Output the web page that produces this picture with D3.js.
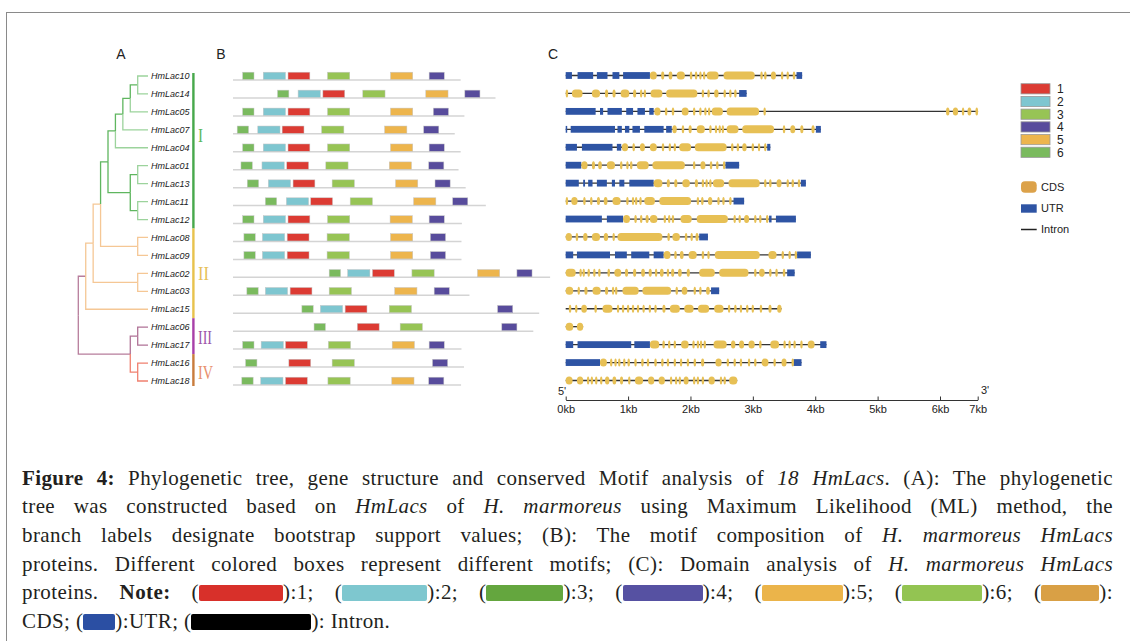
<!DOCTYPE html>
<html>
<head>
<meta charset="utf-8">
<script src="https://cdn.jsdelivr.net/npm/d3@7"></script>
<style>
body { margin: 0; background: #fff; }
#wrap { position: relative; width: 1130px; height: 641px; overflow: hidden; }
#wrap svg { position: absolute; left: 0; top: 0; }
.cap { position: absolute; left: 22px; width: 1091px; font-family: "Liberation Serif", serif; font-size: 21px; letter-spacing: 0.4px; line-height: 24px; color: #231f20; text-align: justify; text-align-last: justify; }
.cap.last { text-align-last: left; }
.sw { display: inline-block; height: 16px; vertical-align: -2px; border-radius: 2px; }
</style>
</head>
<body>
<div id="wrap"></div>
<script>
// ---- data ----
const genes = ["HmLac10","HmLac14","HmLac05","HmLac07","HmLac04","HmLac01","HmLac13","HmLac11","HmLac12",
  "HmLac08","HmLac09","HmLac02","HmLac03","HmLac15","HmLac06","HmLac17","HmLac16","HmLac18"];
const groups = ["I","I","I","I","I","I","I","I","I","II","II","II","II","II","III","III","IV","IV"];
const groupNames = ["I","II","III","IV"];

// ML tree topology (leaf order = genes)
const tree = [[[[[[[[["HmLac10","HmLac14"],"HmLac05"],"HmLac07"],"HmLac04"],
  [["HmLac01","HmLac13"],["HmLac11","HmLac12"]]],["HmLac08","HmLac09"]],["HmLac02","HmLac03"]],"HmLac15"],
  [["HmLac06","HmLac17"],["HmLac16","HmLac18"]]];

// motif composition (start positions, aa), protein lengths (aa)
const proteinLen = [542,625,551,528,542,537,554,602,545,544,544,755,563,729,715,544,550,543];
const motifNames = ["1","2","3","4","5","6"];
const motifWidth = [52,53,53,36,53,27];
const motif1 = [131,214,131,117,131,128,143,185,131,129,129,332,136,267,296,125,133,125];
const motif2 = [72,155,72,59,72,69,84,127,72,70,70,273,77,208,null,67,null,66];
const motif3 = [225,309,225,211,225,221,236,279,225,224,224,426,229,372,398,227,236,226];
const motif4 = [467,552,477,454,467,466,481,523,467,470,470,676,479,630,640,467,475,466];
const motif5 = [375,459,375,361,375,372,387,430,374,375,375,582,385,null,null,379,null,378];
const motif6 = [23,106,23,10,23,19,34,77,23,26,26,229,33,164,193,23,30,21];

// gene structure, kb
const geneUTR = [
  [[0,0.10],[0.19,0.44],[0.50,0.67],[0.75,0.86],[0.92,1.35],[3.70,3.79]],
  [[2.78,2.90]],
  [[0,0.48],[0.55,0.60],[0.67,0.90],[0.97,1.08],[1.15,1.27],[1.34,1.41]],
  [[0,0.02],[0.08,0.79],[0.83,0.90],[0.95,1.02],[1.07,1.19],[1.26,1.57],[1.61,1.70],[4.01,4.09]],
  [[0,0.18],[0.26,0.75],[0.82,0.89],[3.23,3.28]],
  [[0,0.25],[2.56,2.78]],
  [[0,0.21],[0.28,0.31],[0.36,0.43],[0.50,0.66],[0.74,0.79],[0.86,0.94],[1.02,1.41],[3.77,3.85]],
  [[2.69,2.86]],
  [[0,0.58],[0.66,0.92],[3.26,3.30],[3.37,3.69]],
  [[2.14,2.28]],
  [[0,0.12],[0.18,0.71],[0.79,0.98],[1.05,1.34],[1.41,1.57],[3.71,3.93]],
  [[3.55,3.67]],
  [[2.33,2.46]],
  [],
  [],
  [[0,0.12],[0.19,1.05],[1.10,1.35],[4.08,4.18]],
  [[0,0.55],[3.65,3.78]],
  []
];
const geneCDS = [
  [[1.35,1.46],[1.53,1.58],[1.65,1.71],[1.78,1.91],[1.99,2.03],[2.07,2.11],[2.14,2.16],[2.20,2.22],[2.26,2.45],[2.53,3.03],[3.12,3.14],[3.18,3.22],[3.29,3.37],[3.45,3.48],[3.54,3.57],[3.64,3.68]],
  [[0,0.02],[0.10,0.27],[0.42,0.55],[0.63,0.68],[0.75,0.80],[0.88,1.02],[1.08,1.13],[1.19,1.22],[1.25,1.27],[1.36,1.55],[1.61,2.11],[2.18,2.21],[2.27,2.31],[2.38,2.45],[2.53,2.56],[2.62,2.64],[2.70,2.74]],
  [[1.42,1.52],[1.59,1.63],[1.70,1.74],[1.86,1.97],[2.04,2.07],[2.14,2.17],[2.22,2.24],[2.28,2.30],[2.34,2.52],[2.58,3.10],[3.17,3.18],[6.16,6.25],[6.34,6.48],[6.58,6.64],[6.73,6.83],[6.94,7.01]],
  [[1.71,1.78],[1.86,1.90],[1.97,2.02],[2.10,2.23],[2.30,2.34],[2.39,2.42],[2.45,2.47],[2.50,2.53],[2.58,2.77],[2.83,3.34],[3.48,3.52],[3.60,3.68],[3.76,3.81],[3.94,3.99]],
  [[0.90,1.00],[1.07,1.11],[1.19,1.27],[1.35,1.46],[1.54,1.58],[1.65,1.67],[1.73,1.75],[1.82,2.01],[2.07,2.58],[2.65,2.69],[2.74,2.78],[2.83,2.90],[2.98,3.02],[3.08,3.11],[3.18,3.21]],
  [[0.25,0.35],[0.42,0.47],[0.52,0.58],[0.66,0.79],[0.87,0.91],[0.97,0.99],[1.03,1.07],[1.14,1.33],[1.39,1.91],[2.04,2.07],[2.16,2.24],[2.31,2.35],[2.41,2.45],[2.52,2.55]],
  [[1.41,1.55],[1.62,1.67],[1.74,1.79],[1.87,1.99],[2.07,2.12],[2.18,2.21],[2.24,2.27],[2.30,2.32],[2.36,2.54],[2.61,3.11],[3.18,3.21],[3.26,3.30],[3.38,3.46],[3.54,3.57],[3.62,3.66],[3.72,3.76]],
  [[0,0.02],[0.09,0.19],[0.28,0.32],[0.39,0.43],[0.50,0.55],[0.61,0.67],[0.75,0.88],[0.97,1.00],[1.06,1.08],[1.11,1.14],[1.18,1.21],[1.26,1.43],[1.50,2.01],[2.10,2.13],[2.17,2.21],[2.28,2.35],[2.43,2.46],[2.51,2.54],[2.62,2.66]],
  [[0.92,1.03],[1.10,1.14],[1.19,1.23],[1.28,1.33],[1.35,1.47],[1.57,1.59],[1.64,1.66],[1.70,1.73],[1.84,2.02],[2.10,2.60],[2.69,2.71],[2.77,2.79],[2.86,2.94],[3.02,3.05],[3.10,3.13],[3.21,3.25]],
  [[0,0.10],[0.16,0.20],[0.28,0.35],[0.42,0.55],[0.61,0.68],[0.75,0.78],[0.83,1.55],[1.63,1.67],[1.71,1.83],[1.91,1.95],[2.00,2.03],[2.08,2.13]],
  [[1.57,1.68],[1.74,1.78],[1.83,1.89],[1.97,2.10],[2.18,2.22],[2.27,2.30],[2.39,3.11],[3.25,3.38],[3.46,3.50],[3.57,3.61],[3.67,3.69]],
  [[0,0.16],[0.22,0.24],[0.27,0.29],[0.35,0.37],[0.44,0.47],[0.52,0.56],[0.67,0.71],[0.78,0.89],[0.95,1.00],[1.08,1.13],[1.21,1.27],[1.33,1.38],[1.43,1.46],[1.51,1.57],[1.62,1.65],[1.69,1.74],[1.80,1.86],[1.94,1.99],[2.14,2.39],[2.46,2.93],[3.02,3.05],[3.10,3.19],[3.26,3.30],[3.36,3.40],[3.48,3.52]],
  [[0,0.12],[0.19,0.22],[0.30,0.35],[0.43,0.56],[0.63,0.68],[0.74,0.76],[0.79,0.82],[0.91,1.17],[1.23,1.69],[1.76,1.80],[1.86,1.95],[2.05,2.07],[2.14,2.16],[2.25,2.31]],
  [[0.05,0.09],[0.15,0.18],[0.25,0.34],[0.46,0.50],[0.59,0.75],[0.82,0.84],[0.90,0.92],[0.98,1.02],[1.06,1.09],[1.14,1.17],[1.23,1.26],[1.33,1.36],[1.42,1.46],[1.55,1.60],[1.67,1.83],[1.90,2.05],[2.12,2.30],[2.38,2.53],[2.60,2.63],[2.70,2.74],[2.79,2.82],[2.89,2.93],[2.98,3.01],[3.11,3.15],[3.25,3.30],[3.39,3.46]],
  [[0,0.12],[0.18,0.28]],
  [[1.35,1.50],[1.55,1.59],[1.64,1.67],[1.73,1.75],[1.85,1.97],[2.03,2.06],[2.10,2.13],[2.15,2.18],[2.21,2.23],[2.37,2.58],[2.65,2.72],[2.78,2.86],[2.93,3.03],[3.10,3.14],[3.28,3.42],[3.49,3.52],[3.57,3.60],[3.65,3.68],[3.76,3.78],[3.88,3.99]],
  [[0.55,0.66],[0.71,0.74],[0.78,0.81],[0.84,0.87],[0.92,0.95],[0.99,1.03],[1.10,1.13],[1.21,1.25],[1.30,1.33],[1.42,1.46],[1.53,1.57],[1.62,1.65],[1.73,1.75],[1.83,1.86],[1.94,1.97],[2.05,2.09],[2.17,2.22],[2.40,2.50],[2.58,2.61],[2.69,2.71],[2.79,2.82],[2.92,2.94],[3.02,3.05],[3.14,3.25],[3.33,3.36],[3.46,3.54],[3.62,3.65]],
  [[0,0.11],[0.18,0.28],[0.34,0.35],[0.40,0.42],[0.47,0.50],[0.55,0.58],[0.63,0.70],[0.75,0.81],[0.87,0.92],[1.00,1.03],[1.11,1.24],[1.32,1.42],[1.49,1.59],[1.67,1.70],[1.75,1.78],[1.81,1.83],[1.89,1.97],[2.04,2.06],[2.10,2.13],[2.18,2.21],[2.29,2.39],[2.47,2.50],[2.53,2.55],[2.62,2.75]]
];
const kbTicks = [0,1,2,3,4,5,6,7];

// ---- colours ----
const motifColor = ["#dc3b33","#7ec6d0","#97c455","#584c9c","#edb54d","#7aba5e"];
const groupBar = {I:"#47a84b", II:"#e8c24c", III:"#a83fa8", IV:"#c97c3c"};
const groupText = {I:"#5cb85c", II:"#e6c15a", III:"#9c55aa", IV:"#e8906c"};
const leafColor = {I:"#9cd39c", II:"#f5c795", III:"#b07296", IV:"#f0806f"};
const nodeColor = {I:"#5fb65f", II:"#f5c795", III:"#b07296", IV:"#f0806f"};
const rootColor = "#b77d9c";
const cdsColor = "#e7c055", utrColor = "#2e54a4";

const W = 1130, H = 641;
const svg = d3.select("#wrap").append("svg").attr("width", W).attr("height", H);

// frame
svg.append("rect").attr("x", 6.5).attr("y", 12.5).attr("width", W + 20).attr("height", H + 20)
  .attr("fill", "none").attr("stroke", "#8a8a8a").attr("stroke-width", 1);

const y = d3.scalePoint().domain(genes).range([76, 381]);
const sans = "'Liberation Sans', Arial, sans-serif";

// panel letters
svg.selectAll(".panel").data([["A",121],["B",221],["C",553]]).enter().append("text")
  .attr("x", d => d[1]).attr("y", 59).attr("text-anchor", "middle")
  .style("font", "14px " + sans).attr("fill", "#222").text(d => d[0]);

// ---- A: tree ----
const groupOf = {};
genes.forEach((g, i) => groupOf[g] = groups[i]);
const root = d3.hierarchy(tree, d => Array.isArray(d) ? d : null);
const xTree = d3.scaleLinear().domain([0, 1, root.height]).range([148, 137.7, 78.3]);
root.eachAfter(n => {
  n.px = xTree(n.height);
  n.py = n.children ? d3.mean(n.children, c => c.py) : y(n.data);
  const gs = Array.from(new Set(n.leaves().map(l => groupOf[l.data])));
  if (!n.children) n.col = leafColor[groupOf[n.data]];
  else if (gs.length === 1) n.col = nodeColor[gs[0]];
  else if (n.depth <= 1) n.col = rootColor;
  else n.col = leafColor.II;
});
const gTree = svg.append("g");
gTree.selectAll("path").data(root.descendants().slice(1)).enter().append("path")
  .attr("d", n => `M${n.parent.px},${n.parent.py}V${n.py}H${n.px}`)
  .attr("fill", "none").attr("stroke", n => n.col).attr("stroke-width", 1.3);
gTree.selectAll("text").data(root.leaves()).enter().append("text")
  .attr("x", 151).attr("y", n => n.py).attr("dy", "0.35em")
  .style("font", "italic 9px " + sans).attr("fill", "#1a1a1a").text(n => n.data);

// group bars and numerals
const groupSpan = groupNames.map(g => {
  const rows = genes.filter((d, i) => groups[i] === g).map(y);
  return {g, a: d3.min(rows), b: d3.max(rows)};
});
const step = y.step();
groupSpan.forEach((s, i) => {
  s.top = i === 0 ? s.a - 3 : s.a - step / 2;
  s.bot = i === groupSpan.length - 1 ? s.b + 5 : s.b + step / 2;
});
const numShift = {I: -15.5, II: 0, III: 1.5, IV: 0.3};
svg.selectAll(".gbar").data(groupSpan).enter().append("rect")
  .attr("x", 192.2).attr("width", 2.4).attr("y", s => s.top).attr("height", s => s.bot - s.top)
  .attr("fill", s => groupBar[s.g]);
svg.selectAll(".gnum").data(groupSpan).enter().append("text")
  .attr("x", 198)
  .attr("y", s => ((s.g === "III" || s.g === "IV") ? (s.a + s.b) / 2 : (s.top + s.bot) / 2) + numShift[s.g])
  .attr("dy", "0.35em")
  .style("font", "19px 'Liberation Serif', serif").attr("fill", s => groupText[s.g])
  .attr("textLength", s => ({I:5, II:11, III:14, IV:15})[s.g]).attr("lengthAdjust", "spacingAndGlyphs")
  .text(s => s.g);

// ---- B: motifs ----
const xAA = d3.scaleLinear().domain([0, 760]).range([233, 552.2]);
const gMotif = svg.append("g");
gMotif.selectAll("line").data(genes).enter().append("line")
  .attr("x1", xAA(0)).attr("x2", (d, i) => xAA(proteinLen[i]))
  .attr("y1", d => y(d) + 4).attr("y2", d => y(d) + 4)
  .attr("stroke", "#d4d4d4").attr("stroke-width", 1.5);
const motifStarts = [motif1, motif2, motif3, motif4, motif5, motif6];
const boxes = [];
motifStarts.forEach((arr, m) => arr.forEach((s, i) => {
  if (s != null) boxes.push({gene: genes[i], m, s});
}));
gMotif.selectAll("rect").data(boxes).enter().append("rect")
  .attr("x", d => xAA(d.s)).attr("width", d => xAA(d.s + motifWidth[d.m]) - xAA(d.s))
  .attr("y", d => y(d.gene) - 3.8).attr("height", 7.3)
  .attr("fill", d => motifColor[d.m]).attr("stroke", "#c6c6c6").attr("stroke-width", 0.5);

// ---- C: gene structure ----
const xKb = d3.scaleLinear().domain([0, 6, 7]).range([565.7, 940, 977.7]);
const gGene = svg.append("g");
genes.forEach((g, i) => {
  const yy = y(g) - 0.5;
  const end = d3.max(geneUTR[i].concat(geneCDS[i]), e => e[1]);
  gGene.append("line").attr("x1", xKb(0)).attr("x2", xKb(end)).attr("y1", yy).attr("y2", yy)
    .attr("stroke", "#333").attr("stroke-width", 1.3);
  gGene.selectAll(null).data(geneUTR[i]).enter().append("rect")
    .attr("x", e => xKb(e[0])).attr("width", e => Math.max(1.5, xKb(e[1]) - xKb(e[0])))
    .attr("y", yy - 3.4).attr("height", 6.8).attr("fill", utrColor);
  gGene.selectAll(null).data(geneCDS[i]).enter().append("rect")
    .each(function(e) {
      const x0 = xKb(e[0]), w = Math.max(2.4, xKb(e[1]) - x0);
      d3.select(this).attr("x", x0).attr("width", w).attr("y", yy - 4).attr("height", 8)
        .attr("rx", Math.min(3.5, w / 2)).attr("ry", 3.5);
    })
    .attr("fill", cdsColor);
});

// axis
const axisG = svg.append("g").attr("transform", "translate(0,400)")
  .call(d3.axisBottom(xKb).tickValues(kbTicks).tickFormat(d => d + "kb")
    .tickSizeInner(-3.5).tickSizeOuter(0).tickPadding(5));
axisG.select(".domain").attr("stroke", "#333");
axisG.selectAll(".tick line").attr("stroke", "#333");
axisG.selectAll("text").style("font", "11px " + sans).attr("fill", "#222");
svg.append("text").attr("x", 562).attr("y", 395).attr("text-anchor", "middle")
  .style("font", "11px " + sans).attr("fill", "#222").text("5'");
svg.append("text").attr("x", 985).attr("y", 394).attr("text-anchor", "middle")
  .style("font", "11px " + sans).attr("fill", "#222").text("3'");

// legends
const lg = svg.append("g");
lg.selectAll("rect").data(motifNames).enter().append("rect")
  .attr("x", 1021).attr("y", (d, i) => 83.7 + i * 12.7).attr("width", 29).attr("height", 10.2)
  .attr("fill", (d, i) => motifColor[i]).attr("stroke", "#9a9a9a").attr("stroke-width", 0.8);
lg.selectAll("text").data(motifNames).enter().append("text")
  .attr("x", 1057).attr("y", (d, i) => 88.8 + i * 12.7).attr("dy", "0.36em")
  .style("font", "12px " + sans).attr("fill", "#222").text(d => d);

const struct = [
  {name: "CDS", y: 187, kind: "cds"},
  {name: "UTR", y: 208.5, kind: "utr"},
  {name: "Intron", y: 229.5, kind: "intron"}
];
struct.forEach(s => {
  if (s.kind === "cds") lg.append("rect").attr("x", 1021).attr("y", s.y - 5.8).attr("width", 15.7).attr("height", 11.6)
    .attr("rx", 4).attr("fill", "#dca24a");
  if (s.kind === "utr") lg.append("rect").attr("x", 1021).attr("y", s.y - 4.2).attr("width", 15.7).attr("height", 8.4)
    .attr("fill", utrColor);
  if (s.kind === "intron") lg.append("line").attr("x1", 1021).attr("x2", 1036.7).attr("y1", s.y).attr("y2", s.y)
    .attr("stroke", "#222").attr("stroke-width", 1.5);
  lg.append("text").attr("x", 1041).attr("y", s.y).attr("dy", "0.36em")
    .style("font", "11px " + sans).attr("fill", "#222").text(s.name);
});

// ---- caption ----
const capLines = [
  `<b>Figure 4:</b> Phylogenetic tree, gene structure and conserved Motif analysis of <i>18 HmLacs</i>. (A): The phylogenetic`,
  `tree was constructed based on <i>HmLacs</i> of <i>H. marmoreus</i> using Maximum Likelihood (ML) method, the`,
  `branch labels designate bootstrap support values; (B): The motif composition of <i>H. marmoreus HmLacs</i>`,
  `proteins. Different colored boxes represent different motifs; (C): Domain analysis of <i>H. marmoreus HmLacs</i>`,
  null,
  null
];
const sw = (c, w) => `<span class="sw" style="width:${w}px;background:${c}"></span>`;
capLines[4] = `proteins. <b>Note:</b> (${sw("#d8302a", 84)}):1; (${sw("#7ec7cf", 85)}):2; (${sw("#64a63e", 77)}):3; (${sw("#5651a2", 80)}):4; (${sw("#ebb44a", 81)}):5; (${sw("#93c452", 80)}):6; (${sw("#d9a045", 58)}):`;
capLines[5] = `CDS; (${sw("#2b4fa3", 32)}):UTR; (${sw("#000", 120)}): Intron.`;
const baselines = [485, 513.7, 542.4, 571, 599.7, 628.4];
d3.select("#wrap").selectAll("div.cap").data(capLines).enter().append("div")
  .attr("class", (d, i) => i === capLines.length - 1 ? "cap last" : "cap")
  .style("top", (d, i) => (baselines[i] - 19.3) + "px")
  .html(d => d);
</script>
</body>
</html>
